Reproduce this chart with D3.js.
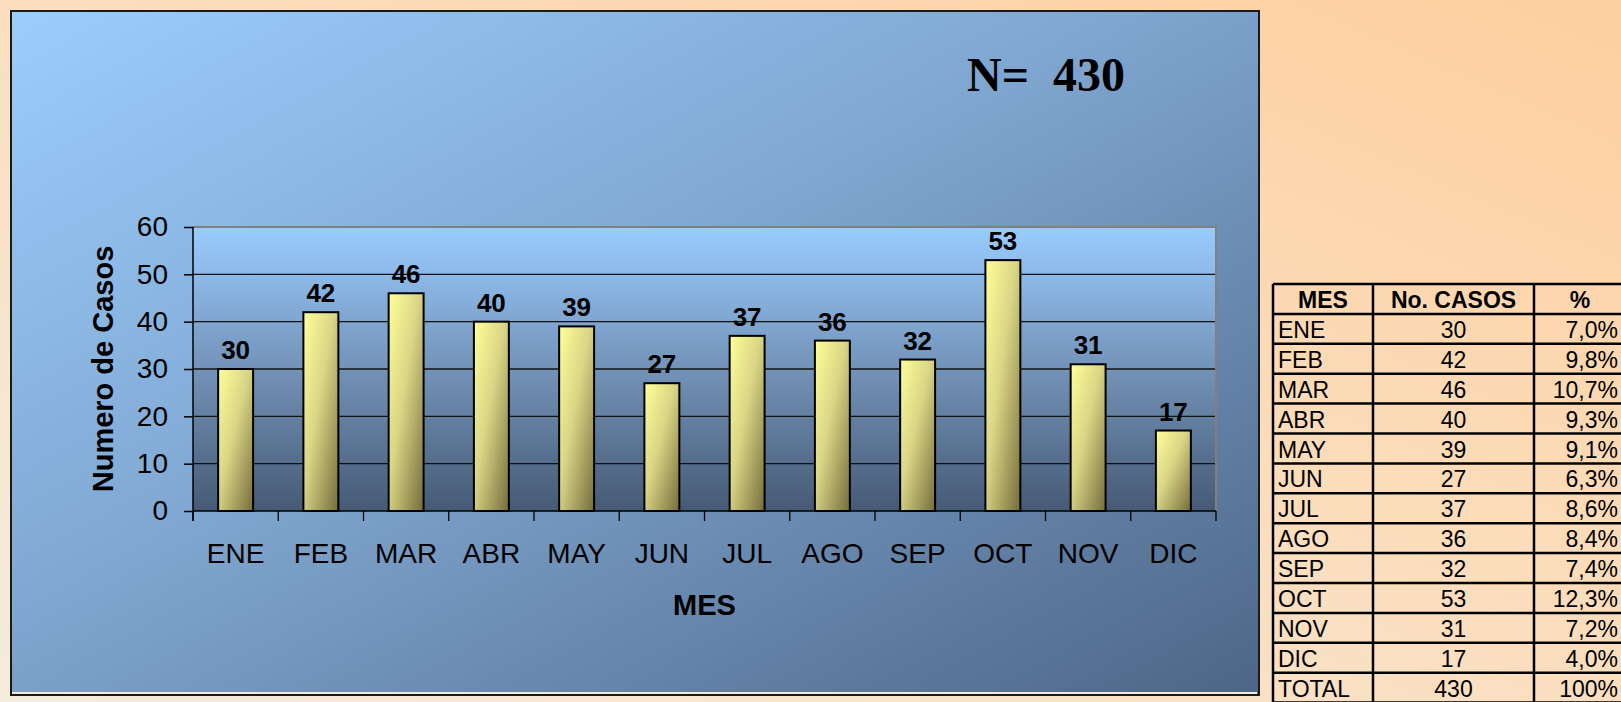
<!DOCTYPE html>
<html>
<head>
<meta charset="utf-8">
<script src="https://cdn.jsdelivr.net/npm/d3@7"></script>
<style>
  html, body { margin: 0; padding: 0; overflow: hidden; }
  text { font-family: "Liberation Sans", Arial, sans-serif; }
</style>
</head>
<body>
<div id="chart"></div>
<script>
// data
const months = ['ENE', 'FEB', 'MAR', 'ABR', 'MAY', 'JUN', 'JUL', 'AGO', 'SEP', 'OCT', 'NOV', 'DIC'];
const casos = [30, 42, 46, 40, 39, 27, 37, 36, 32, 53, 31, 17];
const porcentajes = ['7,0%', '9,8%', '10,7%', '9,3%', '9,1%', '6,3%', '8,6%', '8,4%', '7,4%', '12,3%', '7,2%', '4,0%'];
const yTicks = [0, 10, 20, 30, 40, 50, 60];
const total = 430;
const totalPct = '100%';

const width = 1621, height = 702;
const plot = { left: 193, right: 1216, top: 227, bottom: 511 };

const svg = d3.select('#chart').append('svg')
    .attr('width', width)
    .attr('height', height);

const defs = svg.append('defs');

function addGradient(id, x1, y1, x2, y2, stops) {
    const g = defs.append('linearGradient')
        .attr('id', id)
        .attr('x1', x1).attr('y1', y1)
        .attr('x2', x2).attr('y2', y2);
    stops.forEach(s => g.append('stop').attr('offset', s[0]).attr('stop-color', s[1]));
}

addGradient('pageGrad', 0, 1, 1, 0, [[0, '#F5ECDD'], [0.55, '#FBDDBC'], [1, '#FECF9F']]);
addGradient('chartGrad', 0, 0, 1, 1, [[0, '#9BCDFD'], [0.45, '#7FA6D0'], [1, '#4D6687']]);
addGradient('plotGrad', 0, 0, 0, 1, [[0, '#99CCFF'], [0.5, '#7393B8'], [1, '#465A75']]);
addGradient('barGrad', 0, 0, 1, 1, [[0, '#FFFF99'], [0.45, '#D9D585'], [1, '#746C3C']]);

// page background
svg.append('rect')
    .attr('width', width).attr('height', height)
    .attr('fill', 'url(#pageGrad)');

// chart area
svg.append('rect')
    .attr('x', 11).attr('y', 11)
    .attr('width', 1248).attr('height', 684)
    .attr('fill', 'url(#chartGrad)')
    .attr('stroke', '#1a1a1a')
    .attr('stroke-width', 2);
svg.append('line')
    .attr('x1', 12).attr('x2', 1257)
    .attr('y1', 693).attr('y2', 693)
    .attr('stroke', '#F3EAD8').attr('stroke-width', 2);

// N= 430
svg.append('text')
    .attr('x', 967).attr('y', 91)
    .attr('font-family', '"Liberation Serif", "Times New Roman", serif')
    .style('font-family', '"Liberation Serif", "Times New Roman", serif')
    .attr('font-size', 48)
    .attr('font-weight', 'bold')
    .attr('xml:space', 'preserve')
    .style('white-space', 'pre')
    .text('N=  ' + total);

// scales
const x = d3.scaleBand()
    .domain(months)
    .range([plot.left, plot.right])
    .paddingInner(0.59)
    .paddingOuter(0.295);

const y = d3.scaleLinear()
    .domain([0, 60])
    .range([plot.bottom, plot.top]);

// plot area
svg.append('rect')
    .attr('x', plot.left).attr('y', plot.top)
    .attr('width', plot.right - plot.left)
    .attr('height', plot.bottom - plot.top)
    .attr('fill', 'url(#plotGrad)');

// gridlines
svg.append('g')
    .selectAll('line')
    .data(yTicks.filter(t => t > 0 && t < 60))
    .join('line')
    .attr('x1', plot.left).attr('x2', plot.right)
    .attr('y1', d => y(d)).attr('y2', d => y(d))
    .attr('stroke', '#111')
    .attr('stroke-width', 1.3);

// plot border top + right (grey)
svg.append('path')
    .attr('d', `M${plot.left},${y(60)}H${plot.right}V${plot.bottom}`)
    .attr('fill', 'none')
    .attr('stroke', '#808080')
    .attr('stroke-width', 2);

// bars
svg.append('g')
    .selectAll('rect')
    .data(casos)
    .join('rect')
    .attr('x', (d, i) => x(months[i]))
    .attr('y', d => y(d))
    .attr('width', x.bandwidth())
    .attr('height', d => y(0) - y(d))
    .attr('fill', 'url(#barGrad)')
    .attr('stroke', '#000')
    .attr('stroke-width', 2);

// value labels
svg.append('g')
    .selectAll('text')
    .data(casos)
    .join('text')
    .attr('x', (d, i) => x(months[i]) + x.bandwidth() / 2)
    .attr('y', d => y(d) - 10)
    .attr('text-anchor', 'middle')
    .attr('font-size', 26)
    .attr('font-weight', 'bold')
    .text(d => d);

// y axis
const yAxis = svg.append('g')
    .attr('transform', `translate(${plot.left},0)`)
    .call(d3.axisLeft(y).tickValues(yTicks).tickSize(9).tickPadding(16));
yAxis.select('.domain')
    .attr('d', `M0,${plot.top}V${plot.bottom + 10}`)
    .attr('stroke', '#000').attr('stroke-width', 1.5);
yAxis.selectAll('.tick line').attr('stroke', '#000').attr('stroke-width', 1.5);
yAxis.selectAll('.tick text')
    .attr('font-size', 28)
    .attr('font-family', '"Liberation Sans", Arial, sans-serif')
    .attr('fill', '#000');

// x axis (ticks at category boundaries)
const xAxis = svg.append('g')
    .attr('transform', `translate(0,${plot.bottom})`);
xAxis.append('line')
    .attr('x1', plot.left).attr('x2', plot.right)
    .attr('stroke', '#000').attr('stroke-width', 1.5);
const step = x.step();
xAxis.selectAll('.bnd')
    .data(d3.range(months.length + 1))
    .join('line')
    .attr('class', 'bnd')
    .attr('x1', i => plot.left + i * step)
    .attr('x2', i => plot.left + i * step)
    .attr('y1', 0).attr('y2', 10)
    .attr('stroke', '#000').attr('stroke-width', 1.3);
xAxis.selectAll('.lbl')
    .data(months)
    .join('text')
    .attr('class', 'lbl')
    .attr('x', d => x(d) + x.bandwidth() / 2)
    .attr('y', 52)
    .attr('text-anchor', 'middle')
    .attr('font-size', 28)
    .text(d => d);

// axis titles
svg.append('text')
    .attr('x', (plot.left + plot.right) / 2)
    .attr('y', 615)
    .attr('text-anchor', 'middle')
    .attr('font-size', 29)
    .attr('font-weight', 'bold')
    .text('MES');

svg.append('text')
    .attr('transform', `translate(113,${(plot.top + plot.bottom) / 2}) rotate(-90)`)
    .attr('text-anchor', 'middle')
    .attr('font-size', 29)
    .attr('font-weight', 'bold')
    .text('Numero de Casos');

// table on the right
const table = { left: 1273, top: 284, rowH: 29.9, cols: [1273, 1373, 1534, 1626] };
const rows = [['MES', 'No. CASOS', '%']]
    .concat(months.map((m, i) => [m, String(casos[i]), porcentajes[i]]))
    .concat([['TOTAL', String(total), totalPct]]);

const tg = svg.append('g');
const tBottom = table.top + rows.length * table.rowH;

tg.selectAll('.hl')
    .data(d3.range(rows.length + 1))
    .join('line')
    .attr('class', 'hl')
    .attr('x1', table.cols[0]).attr('x2', table.cols[3])
    .attr('y1', i => table.top + i * table.rowH)
    .attr('y2', i => table.top + i * table.rowH)
    .attr('stroke', '#000').attr('stroke-width', 2.5);

tg.selectAll('.vl')
    .data(table.cols)
    .join('line')
    .attr('class', 'vl')
    .attr('x1', d => d).attr('x2', d => d)
    .attr('y1', table.top).attr('y2', tBottom)
    .attr('stroke', '#000').attr('stroke-width', 2.5);

rows.forEach((r, i) => {
    const base = table.top + i * table.rowH + 24;
    const header = i === 0;
    tg.append('text')
        .attr('x', header ? (table.cols[0] + table.cols[1]) / 2 : table.cols[0] + 5)
        .attr('y', base)
        .attr('text-anchor', header ? 'middle' : 'start')
        .attr('font-size', 23)
        .attr('font-weight', header ? 'bold' : 'normal')
        .text(r[0]);
    tg.append('text')
        .attr('x', (table.cols[1] + table.cols[2]) / 2)
        .attr('y', base)
        .attr('text-anchor', 'middle')
        .attr('font-size', 23)
        .attr('font-weight', header ? 'bold' : 'normal')
        .text(r[1]);
    tg.append('text')
        .attr('x', header ? (table.cols[2] + table.cols[3]) / 2 : 1618)
        .attr('y', base)
        .attr('text-anchor', header ? 'middle' : 'end')
        .attr('font-size', 23)
        .attr('font-weight', header ? 'bold' : 'normal')
        .text(r[2]);
});
</script>
</body>
</html>
